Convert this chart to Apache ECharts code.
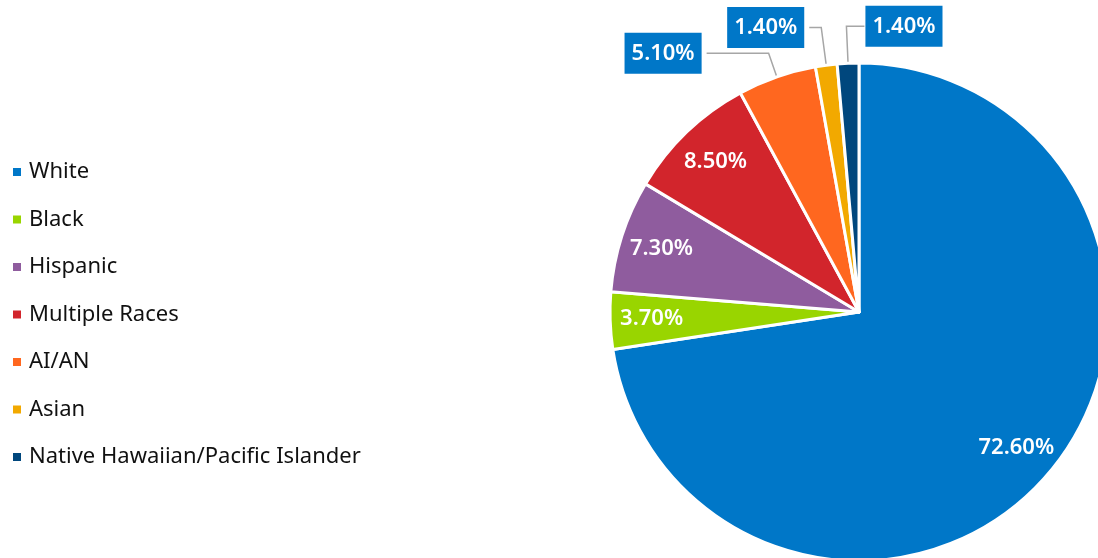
<!DOCTYPE html>
<html>
<head>
<meta charset="utf-8">
<script src="https://cdn.jsdelivr.net/npm/echarts@6/dist/echarts.min.js"></script>
<style>
  html, body { margin: 0; padding: 0; background: #fff; }
  #chart { width: 1098px; height: 558px; }
</style>
</head>
<body>
<div id="chart"></div>
<script>
const categories = ['White', 'Black', 'Hispanic', 'Multiple Races', 'AI/AN', 'Asian', 'Native Hawaiian/Pacific Islander']
const values = [72.6, 3.7, 7.3, 8.5, 5.1, 1.4, 1.4]
const colors = ['#0077C8', '#99D500', '#8F5C9E', '#D2252C', '#FF671F', '#F2A900', '#00477D']

// small slices get a boxed label outside, the rest inside
const outsideLabel = [false, false, false, false, true, true, true]
const lineLen = [0, 0, 0, 0, [25, 62], [38, 12], [37, 18]]

const font = '"Noto Sans", "Open Sans", sans-serif'
const chart = echarts.init(document.getElementById('chart'))

const mainData = categories.map((name, i) => {
  const item = { name, value: values[i], itemStyle: { color: colors[i] } }
  if (outsideLabel[i]) {
    item.label = { show: true }
    item.labelLine = { show: true, length: lineLen[i][0], length2: lineLen[i][1] }
  } else {
    item.label = { show: false }
    item.labelLine = { show: false }
  }
  return item
})

const innerData = categories.map((name, i) => ({
  name,
  value: values[i],
  label: { show: !outsideLabel[i] }
}))

const option = {
  animation: false,
  legend: {
    orient: 'vertical',
    left: 6,
    top: 156,
    itemWidth: 10,
    itemHeight: 10,
    itemGap: 25.5,
    icon: 'rect',
    data: categories,
    textStyle: { fontSize: 22, color: '#111', fontFamily: font, padding: [0, 0, 0, 2] }
  },
  series: [
    {
      type: 'pie',
      center: [859, 312],
      radius: [0, 249],
      startAngle: 90,
      clockwise: true,
      avoidLabelOverlap: false,
      itemStyle: { borderColor: '#fff', borderWidth: 3 },
      label: {
        position: 'outside',
        formatter: (p) => p.value.toFixed(2) + '%',
        color: '#fff',
        fontSize: 22,
        fontWeight: 600,
        fontFamily: font,
        backgroundColor: '#0077C8',
        padding: [10, 7, 9, 7]
      },
      labelLine: {
        lineStyle: { color: '#A6A6A6', width: 1.5 },
        smooth: false
      },
      emphasis: { disabled: true },
      labelLayout: function (params) {
        // flip the last slice's label to the right side of its line
        if (params.dataIndex !== categories.length - 1) return {}
        const pts = params.labelLinePoints
        if (!pts) return {}
        const p1 = pts[1]
        const p2 = pts[2]
        const nx = p1[0] + (p1[0] - p2[0])
        return {
          x: nx + 1,
          y: params.labelRect.y + params.labelRect.height / 2,
          align: 'left',
          verticalAlign: 'middle',
          labelLinePoints: [pts[0], p1, [nx, p2[1]]]
        }
      },
      data: mainData
    },
    {
      type: 'pie',
      center: [859, 312],
      radius: [160, 249],
      startAngle: 90,
      clockwise: true,
      silent: true,
      avoidLabelOverlap: false,
      itemStyle: { color: 'rgba(0,0,0,0)', borderWidth: 0 },
      label: {
        position: 'inside',
        formatter: (p) => p.value.toFixed(2) + '%',
        color: '#fff',
        fontSize: 22,
        fontWeight: 600,
        fontFamily: font
      },
      labelLine: { show: false },
      emphasis: { disabled: true },
      data: innerData
    }
  ]
}
chart.setOption(option)
</script>
</body>
</html>
